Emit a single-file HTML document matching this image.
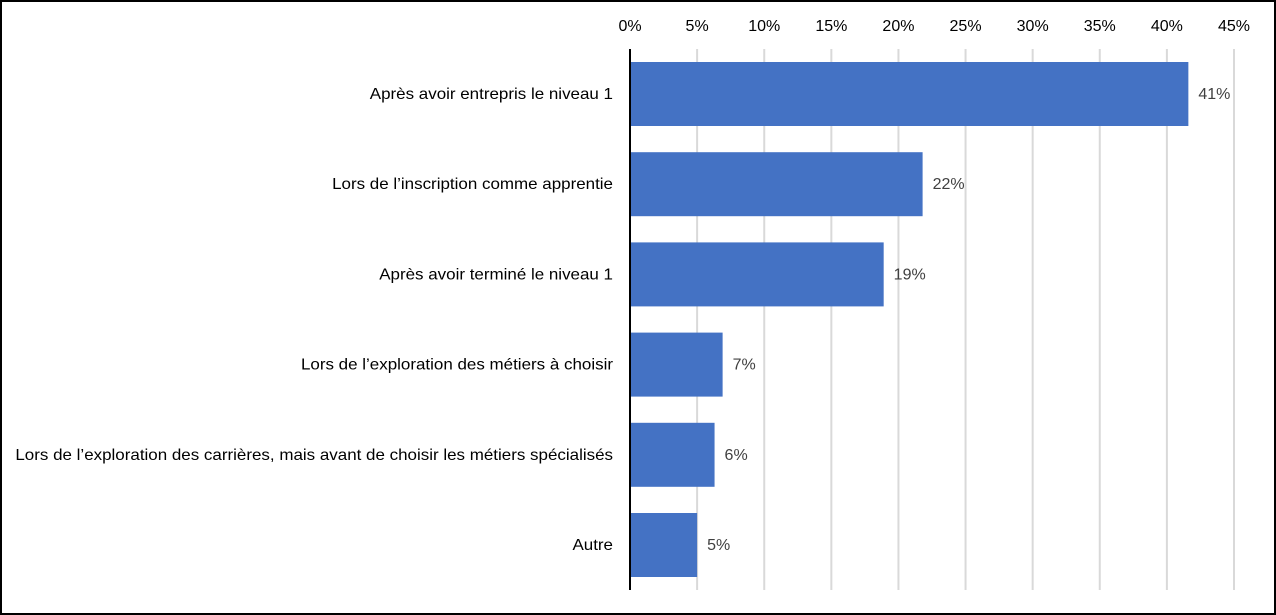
<!DOCTYPE html>
<html><head><meta charset="utf-8"><style>
body{margin:0;background:#fff}
svg{display:block;font-family:"Liberation Sans",sans-serif}
</style></head><body>
<svg id="c" width="1276" height="615">
<rect x="1" y="1" width="1274" height="613" fill="#fff" stroke="#000" stroke-width="2"/>
<g id="grid"></g><g id="bars"></g><g id="labels"></g>
<line x1="630" y1="49" x2="630" y2="590" stroke="#000" stroke-width="2"/>
</svg>
<script>
const categories=["Après avoir entrepris le niveau 1","Lors de l’inscription comme apprentie","Après avoir terminé le niveau 1","Lors de l’exploration des métiers à choisir","Lors de l’exploration des carrières, mais avant de choisir les métiers spécialisés","Autre"];
const values=[41.6,21.8,18.9,6.9,6.3,5.0];
const valueLabels=["41%","22%","19%","7%","6%","5%"];
const ticks=[0,5,10,15,20,25,30,35,40,45];
const ns="http://www.w3.org/2000/svg";
const x0=630,pxPer=(1234-630)/45;
const xs=v=>x0+v*pxPer;
const ys=i=>62+i*90.2;
function mk(t,a,p,txt){const e=document.createElementNS(ns,t);for(const k in a)e.setAttribute(k,a[k]);if(txt!=null)e.textContent=txt;p.appendChild(e);return e;}
function widen(e,f){const w=e.getComputedTextLength();e.setAttribute('textLength',w*f);e.setAttribute('lengthAdjust','spacingAndGlyphs');}
const G=document.getElementById('grid'),B=document.getElementById('bars'),L=document.getElementById('labels');
ticks.forEach(t=>{
 if(t>0){const l=mk('line',{x1:xs(t),x2:xs(t),y1:49,y2:590,stroke:'#d9d9d9','stroke-width':2},G);
 
 }
 const tx=mk('text',{x:xs(t),y:31,'text-anchor':'middle','font-size':16,fill:'#000'},L,t+'%');
 
 
});
categories.forEach((c,i)=>{
 const y=ys(i);
 const r=mk('rect',{x:x0,y:y,width:xs(values[i])-x0,height:64,fill:'#4472c4'},B);
 
 
 const cl=mk('text',{x:613,y:y+37,'text-anchor':'end','font-size':16,fill:'#000'},L,c);
 
 
 widen(cl,1.06);
 const vl=mk('text',{x:xs(values[i])+10,y:y+37,'font-size':16,fill:'#404040'},L,valueLabels[i]);
 
 
});
</script>
</body></html>
